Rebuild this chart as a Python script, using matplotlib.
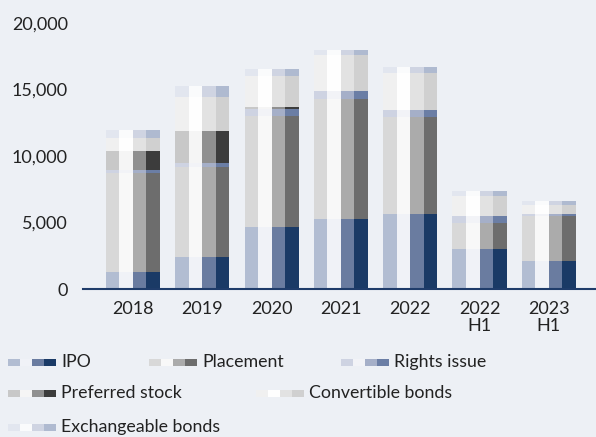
import numpy as np
import matplotlib.pyplot as plt
from matplotlib.patches import Rectangle
from matplotlib.ticker import FuncFormatter

plt.rcParams['font.family'] = ['Lato', 'DejaVu Sans']

categories = ['2018', '2019', '2020', '2021', '2022', '2022\nH1', '2023\nH1']
ipo = [1280, 2430, 4685, 5285, 5660, 3030, 2130]
placement = [7465, 6765, 8345, 9000, 7295, 1955, 3380]
rights_issue = [200, 280, 480, 625, 525, 525, 150]
preferred_stock = [1430, 2425, 200, 0, 0, 0, 0]
convertible_bonds = [1000, 2560, 2330, 2705, 2780, 1505, 655]
exchangeable_bonds = [580, 825, 500, 355, 455, 355, 325]

series_names = ['IPO', 'Placement', 'Rights issue', 'Preferred stock',
                'Convertible bonds', 'Exchangeable bonds']
series = [ipo, placement, rights_issue, preferred_stock,
          convertible_bonds, exchangeable_bonds]
# four shades per series (left to right inside each group)
shades = [
    ['#b2bdd2', '#f0f2f7', '#6a7ca0', '#1a3a66'],
    ['#d8d8d8', '#f8f8f8', '#ababab', '#6d6d6d'],
    ['#ced3e2', '#f2f3f7', '#a5afc8', '#6b7ea5'],
    ['#c8c8c8', '#f5f5f5', '#909090', '#3c3c3c'],
    ['#f0f0f0', '#fefefe', '#e2e2e2', '#d0d0d0'],
    ['#e2e6ef', '#fafbfc', '#cfd4e2', '#afbad0'],
]

bg = '#edf0f5'
txt = '#222222'

fig = plt.figure(figsize=(5.96, 4.37), dpi=100, facecolor=bg)
ax = fig.add_axes([83 / 596, 148 / 437, 513 / 596, 266 / 437], facecolor=bg)

x = np.arange(len(categories))
w = 0.195
for j in range(4):
    bottom = np.zeros(len(categories))
    for s, vals in enumerate(series):
        vals = np.array(vals, dtype=float)
        ax.bar(x + (j - 1.5) * w, vals, w, bottom=bottom,
               color=shades[s][j], linewidth=0)
        bottom += vals

ax.set_xlim(-0.72, 6.68)
ax.set_ylim(0, 20000)
ax.set_yticks([0, 5000, 10000, 15000, 20000])
ax.yaxis.set_major_formatter(FuncFormatter(lambda v, p: f'{int(v):,}'))
ax.set_xticks(x)
ax.set_xticklabels(categories, linespacing=1.05)
ax.tick_params(length=0, labelsize=13, colors=txt)
ax.tick_params(axis='x', pad=9)
ax.tick_params(axis='y', pad=11)
for sp in ['top', 'right', 'left']:
    ax.spines[sp].set_visible(False)
ax.spines['bottom'].set_color('#1f3c6a')
ax.spines['bottom'].set_linewidth(1.5)

# legend laid out in rows, like the reference
H = 437
entries = [(0, 8, 362), (1, 149, 362), (2, 341, 362),
           (3, 8, 393), (4, 256, 393), (5, 8, 427)]
for s, px, py in entries:
    for j in range(4):
        fig.add_artist(Rectangle(((px + j * 12) / 596, (H - py - 3.5) / H),
                                 12 / 596, 7 / H, transform=fig.transFigure,
                                 color=shades[s][j], linewidth=0))
    fig.text((px + 53) / 596, (H - py) / H, series_names[s], fontsize=12.8,
             color=txt, va='center', ha='left')

fig.savefig('out.png', dpi=100, facecolor=bg)
